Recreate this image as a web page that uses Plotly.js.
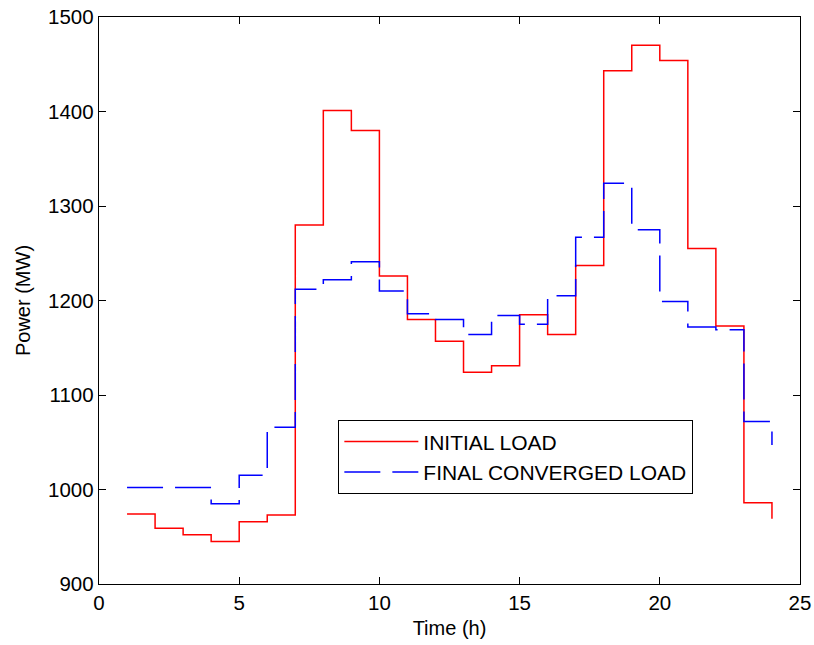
<!DOCTYPE html>
<html>
<head>
<meta charset="utf-8">
<script src="https://cdn.plot.ly/plotly-3.0.1.min.js"></script>
<style>html,body{margin:0;padding:0;background:#fff;}</style>
</head>
<body>
<div id="chart" style="width:814px;height:645px;"></div>
<script>
const hours = [1,2,3,4,5,6,7,8,9,10,11,12,13,14,15,16,17,18,19,20,21,22,23,24];
const initialLoad = [974,959,952,945,966,973,1280,1401,1380,1226,1180,1157,1124,1131,1185,1164,1237,1443,1470,1454,1255,1173,986,969];
const finalLoad = [1002,1002,1002,985,1015,1066,1212,1222,1241,1210,1186,1180,1164,1184,1175,1205,1267,1324,1275,1199,1172,1169,1072,1047];
const seriesNames = ["INITIAL LOAD", "FINAL CONVERGED LOAD"];

const traces = [
  {x: hours, y: initialLoad, name: seriesNames[0], type: "scatter", mode: "lines",
   line: {shape: "hv", color: "#ff0000", width: 1.5}},
  {x: hours, y: finalLoad, name: seriesNames[1], type: "scatter", mode: "lines",
   line: {shape: "hv", color: "#0000ff", width: 1.5, dash: "36px,12px"}}
];

const FONT = "Liberation Sans, Arial, Helvetica, sans-serif";
const axisCommon = {
  showline: true, mirror: "ticks", linecolor: "#000", linewidth: 1.3,
  ticks: "inside", ticklen: 7, tickcolor: "#000", tickwidth: 1,
  showgrid: false, zeroline: false,
  tickfont: {family: FONT, size: 20.5, color: "#000"}
};

const layout = {
  width: 814, height: 645,
  margin: {l: 99, r: 14, t: 17, b: 61},
  paper_bgcolor: "#fff", plot_bgcolor: "#fff",
  font: {family: FONT, size: 20, color: "#000"},
  xaxis: Object.assign({}, axisCommon, {range: [0, 25], tickmode: "linear", tick0: 0, dtick: 5,
    title: {text: "Time (h)", font: {size: 20}, standoff: 8}}),
  yaxis: Object.assign({}, axisCommon, {range: [900, 1500], tickmode: "linear", tick0: 900, dtick: 100,
    title: {text: "Power (MW)", font: {size: 20}, standoff: 12}}),
  showlegend: true,
  legend: {x: 0.341, y: 0.289, xanchor: "left", yanchor: "top",
    bgcolor: "#fff", bordercolor: "#000", borderwidth: 1.3,
    font: {size: 21, color: "#000"}, itemwidth: 74, tracegroupgap: 0}
};

Plotly.newPlot("chart", traces, layout, {displayModeBar: false, staticPlot: true});
</script>
</body>
</html>
